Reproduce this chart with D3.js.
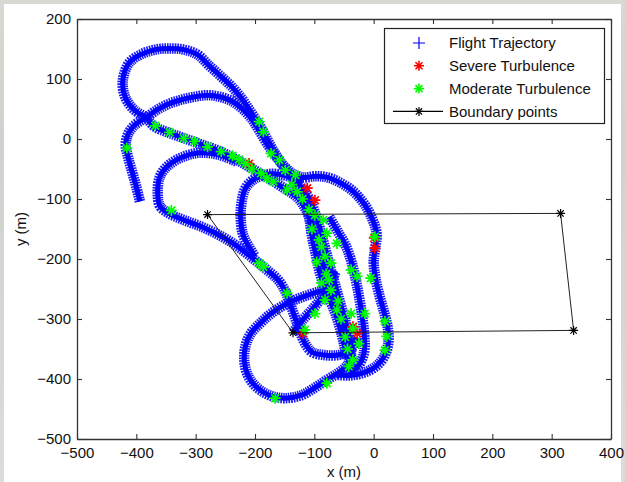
<!DOCTYPE html>
<html>
<head>
<meta charset="utf-8">
<script src="https://cdn.jsdelivr.net/npm/d3@7"></script>
<style>
  body { margin: 0; background: #d8dcd4; }
  text { font-family: "Liberation Sans", Arial, sans-serif; fill: #111; }
</style>
</head>
<body>
<div id="chart"></div>
<script>
// ---- data (metres) ----
var xTicks = [-500, -400, -300, -200, -100, 0, 100, 200, 300, 400];
var yTicks = [-500, -400, -300, -200, -100, 0, 100, 200];

var tailPass = [[-394,-104],[-400,-80],[-407,-55],[-414,-30],[-418,-10],[-414,8],[-403,23],[-383,36]];

var topLoopPass = [[-383,36],[-403,48],[-418,68],[-423,96],[-412,127],[-392,141],[-368,149],[-345,151],
  [-320,149],[-296,140],[-277,122],[-257,104],[-238,86],[-222,67],[-209,48],[-197,30],[-186,12],[-175,-9],
  [-163,-29],[-150,-48],[-136,-65],[-121,-81],[-109,-99],[-100,-120],[-92,-144],[-85,-170],[-78,-196],
  [-71,-222],[-63,-250],[-55,-278],[-47,-306],[-41,-333],[-38,-356],[-44,-376],[-60,-390],[-80,-402],
  [-100,-415],[-122,-427],[-150,-432],[-176,-427],[-198,-413],[-212,-394],[-218,-370],[-216,-345],
  [-207,-324],[-190,-306],[-173,-291],[-146,-274],[-119,-263],[-92,-254],[-80,-250]];

var middleArcPass = [[-383,36],[-366,48],[-349,57],[-326,65],[-304,70],[-280,73],[-258,70],[-237,62],
  [-220,49],[-206,34],[-194,16],[-182,-4],[-168,-25],[-152,-44],[-136,-58],[-118,-64],[-98,-62],[-78,-64],
  [-58,-72],[-36,-86],[-16,-108],[-2,-134],[5,-158],[3,-180],[0,-204],[3,-232],[10,-262],[18,-290],
  [24,-316],[25,-338],[19,-360],[5,-378],[-15,-389],[-40,-394],[-62,-393]];

var diagonalPass = [[-383,36],[-370,21],[-344,10],[-316,0],[-288,-10],[-260,-20],[-236,-32],[-214,-44],
  [-192,-57],[-170,-70],[-148,-84],[-128,-98],[-114,-118],[-104,-142],[-96,-168],[-88,-196],[-80,-226],
  [-72,-252],[-64,-276],[-56,-300],[-48,-324],[-42,-348],[-38,-370],[-44,-384]];

var mainBandPass = [[-140,-72],[-124,-90],[-114,-110],[-108,-135],[-104,-162],[-98,-190],[-92,-218],
  [-84,-244],[-74,-268],[-64,-292],[-56,-318],[-50,-342],[-46,-366]];

var westLoopPass = [[-231,-38],[-262,-26],[-294,-23],[-322,-30],[-346,-44],[-360,-62],[-364,-90],
  [-360,-112],[-345,-124],[-320,-135],[-288,-147],[-255,-163],[-228,-180],[-201,-201],[-180,-218],
  [-160,-236],[-147,-258],[-136,-288],[-126,-316],[-116,-340],[-104,-355],[-84,-360],[-60,-360],
  [-40,-352],[-29,-330]];

var innerLoopPass = [[-120,-70],[-145,-62],[-172,-58],[-200,-66],[-216,-82],[-223,-108],[-224,-135],
  [-220,-160],[-210,-180],[-200,-196]];

var eastBandPass = [[-75,-130],[-60,-155],[-46,-180],[-36,-210],[-28,-245],[-21,-285],[-16,-325],
  [-16,-355],[-26,-378],[-42,-390]];

var risePass = [[-136,-322],[-120,-302],[-100,-280],[-84,-260],[-72,-240],[-64,-220]];

var severePoints = [[-112,-82],[-99,-102],[2,-182],[1,-165],[-119,-324],[-35,-313],[-28,-324],[-210,-41]];

var moderatePoints = [[-416,-15],[-368,22],[-344,11],[-302,-4],[-280,-13],[-257,-21],[-227,-34],
  [-216,-41],[-190,-57],[-180,-65],[-169,-71],[-193,29],[-186,12],[-173,-24],[-159,-35],[-149,-52],
  [-132,-60],[-129,-88],[-146,-85],[-109,-118],[-99,-127],[-85,-135],[-79,-157],[-62,-174],[-92,-168],
  [-82,-196],[-72,-207],[-75,-235],[-72,-252],[-82,-268],[-99,-291],[-116,-318],[-38,-218],[-28,-229],
  [-5,-232],[-15,-291],[19,-304],[22,-329],[19,-352],[-38,-291],[-35,-316],[-25,-341],[-35,-368],
  [-42,-379],[-79,-407],[-166,-432],[-341,-119],[-193,-207],[-186,-213],[-146,-257],[2,-163],
  [-88,-180],[-80,-225],[-62,-285],[-55,-300],[-48,-330],[-104,-150],[-96,-205],[-88,-240],
  [-120,-100],[-138,-76],[-60,-270],[-44,-350],[-238,-28],[-320,1],[-205,-50]];

var boundaryPoints = [[-280,-126],[315,-124],[337,-319],[-136,-323],[-280,-126]];

var legendNames = ["Flight Trajectory", "Severe Turbulence", "Moderate Turbulence", "Boundary points"];

// ---- layout ----
var W = 625, H = 482;
var x = d3.scaleLinear().domain([-500, 400]).range([77, 611]);
var y = d3.scaleLinear().domain([-500, 200]).range([439, 19]);

var svg = d3.select("#chart").append("svg")
    .attr("width", W)
    .attr("height", H);

var defs = svg.append("defs");
var grad = defs.append("linearGradient").attr("id", "bg").attr("x1", 0).attr("y1", 0).attr("x2", 0).attr("y2", 1);
grad.append("stop").attr("offset", "0%").attr("stop-color", "#d6dad2");
grad.append("stop").attr("offset", "30%").attr("stop-color", "#cfd2cc");
grad.append("stop").attr("offset", "100%").attr("stop-color", "#dcdcda");

svg.append("rect").attr("width", W).attr("height", H).attr("fill", "url(#bg)");
svg.append("rect").attr("x", 4).attr("y", 4).attr("width", 617).attr("height", H - 4).attr("fill", "#fff");

defs.append("clipPath").attr("id", "plotClip")
  .append("rect").attr("x", 77).attr("y", 19).attr("width", 534).attr("height", 420);

// ---- axes (inward ticks on all sides, MATLAB box) ----
function styleAxis(g) {
  g.selectAll("path.domain").attr("stroke", "#333").attr("stroke-width", 1.3);
  g.selectAll(".tick line").attr("stroke", "#333").attr("stroke-width", 1.1);
  g.selectAll(".tick text").attr("font-size", 15).attr("fill", "#111")
    .attr("font-family", "'Liberation Sans', Arial, sans-serif");
}

svg.append("g").attr("transform", "translate(0,439)")
  .call(d3.axisBottom(x).tickValues(xTicks).tickSizeInner(-5).tickSizeOuter(0).tickPadding(8))
  .call(styleAxis);

svg.append("g").attr("transform", "translate(0,19)")
  .call(d3.axisTop(x).tickValues(xTicks).tickSizeInner(-5).tickSizeOuter(0).tickFormat(""))
  .call(styleAxis);

svg.append("g").attr("transform", "translate(77,0)")
  .call(d3.axisLeft(y).tickValues(yTicks).tickSizeInner(-5).tickSizeOuter(0).tickPadding(6))
  .call(styleAxis);

svg.append("g").attr("transform", "translate(611,0)")
  .call(d3.axisRight(y).tickValues(yTicks).tickSizeInner(-5).tickSizeOuter(0).tickFormat(""))
  .call(styleAxis);

svg.append("text")
    .attr("x", 344).attr("y", 477)
    .attr("text-anchor", "middle")
    .attr("font-size", 15)
    .text("x (m)");

svg.append("text")
    .attr("transform", "translate(26,229) rotate(-90)")
    .attr("text-anchor", "middle")
    .attr("font-size", 15)
    .text("y (m)");

// ---- marks ----
var plot = svg.append("g").attr("clip-path", "url(#plotClip)");

var line = d3.line()
    .x(function(d) { return x(d[0]); })
    .y(function(d) { return y(d[1]); })
    .curve(d3.curveCatmullRom.alpha(0.5));

var passes = [tailPass, topLoopPass, middleArcPass, diagonalPass, mainBandPass, westLoopPass,
  innerLoopPass, eastBandPass, risePass];

// '+' markers merge into a hatched band
plot.selectAll("path.band").data(passes).enter().append("path")
    .attr("class", "band")
    .attr("d", line)
    .attr("fill", "none")
    .attr("stroke", "#1a1aff")
    .attr("stroke-width", 10.5)
    .attr("stroke-dasharray", "1.6,0.9");

plot.selectAll("path.core").data(passes).enter().append("path")
    .attr("class", "core")
    .attr("d", line)
    .attr("fill", "none")
    .attr("stroke", "#0000ff")
    .attr("stroke-width", 5);

function starPath(s) {
  var a = s * 0.7;
  return "M" + (-s) + ",0H" + s + "M0," + (-s) + "V" + s +
    "M" + (-a) + "," + (-a) + "L" + a + "," + a + "M" + (-a) + "," + a + "L" + a + "," + (-a);
}

plot.selectAll("path.severe").data(severePoints).enter().append("path")
    .attr("class", "severe")
    .attr("transform", function(d) { return "translate(" + x(d[0]) + "," + y(d[1]) + ")"; })
    .attr("d", starPath(5.5))
    .attr("fill", "none")
    .attr("stroke", "#ff0000")
    .attr("stroke-width", 1.7);

plot.selectAll("path.moderate").data(moderatePoints).enter().append("path")
    .attr("class", "moderate")
    .attr("transform", function(d) { return "translate(" + x(d[0]) + "," + y(d[1]) + ")"; })
    .attr("d", starPath(5.5))
    .attr("fill", "none")
    .attr("stroke", "#00ff00")
    .attr("stroke-width", 1.7);

var boundaryLine = d3.line()
    .x(function(d) { return x(d[0]); })
    .y(function(d) { return y(d[1]); });

plot.append("path")
    .attr("d", boundaryLine(boundaryPoints))
    .attr("fill", "none")
    .attr("stroke", "#222")
    .attr("stroke-width", 1);

plot.selectAll("path.bpt").data(boundaryPoints.slice(0, 4)).enter().append("path")
    .attr("class", "bpt")
    .attr("transform", function(d) { return "translate(" + x(d[0]) + "," + y(d[1]) + ")"; })
    .attr("d", starPath(4.5))
    .attr("fill", "none")
    .attr("stroke", "#000")
    .attr("stroke-width", 1.2);

// ---- legend ----
var legend = svg.append("g").attr("class", "legend");

legend.append("rect")
    .attr("x", 384.5).attr("y", 28.5)
    .attr("width", 220).attr("height", 95)
    .attr("fill", "#fff")
    .attr("stroke", "#222")
    .attr("stroke-width", 1.2);

legendNames.forEach(function(name, i) {
  var cy = 43 + i * 22.8;
  var g = legend.append("g");
  if (i === 0) {
    g.append("path")
      .attr("d", "M413," + cy + "H425M419," + (cy - 6) + "V" + (cy + 6))
      .attr("stroke", "#0000ff").attr("stroke-width", 1.2);
  } else if (i === 3) {
    g.append("line")
      .attr("x1", 393).attr("x2", 443).attr("y1", cy).attr("y2", cy)
      .attr("stroke", "#000").attr("stroke-width", 1.2);
    g.append("path")
      .attr("transform", "translate(419," + cy + ")")
      .attr("d", starPath(4.5))
      .attr("fill", "none").attr("stroke", "#000").attr("stroke-width", 1.2);
  } else {
    g.append("path")
      .attr("transform", "translate(419," + cy + ")")
      .attr("d", starPath(5))
      .attr("fill", "none")
      .attr("stroke", i === 1 ? "#ff0000" : "#00ff00")
      .attr("stroke-width", 1.6);
  }
  g.append("text")
    .attr("x", 449).attr("y", cy)
    .attr("dy", "0.35em")
    .attr("font-size", 15)
    .text(name);
});
</script>
</body>
</html>
